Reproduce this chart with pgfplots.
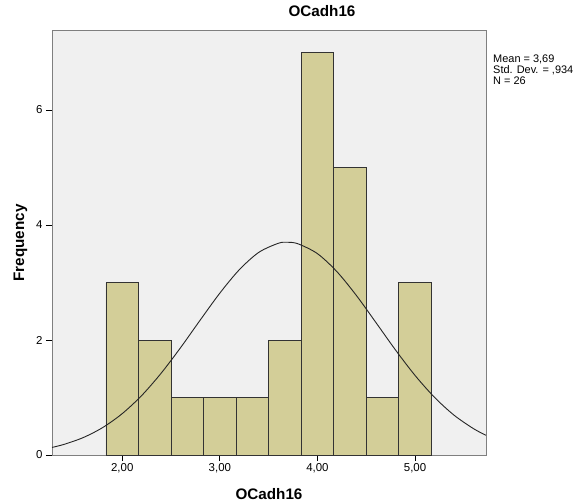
\documentclass[border=0pt]{standalone}
\usepackage{pgfplots}
\pgfplotsset{compat=1.18}
\usepackage{fontspec}
\setmainfont{Liberation Sans}
\definecolor{plotbg}{HTML}{F0F0F0}
\definecolor{barfill}{HTML}{D3CE98}
\definecolor{frame}{HTML}{7F7F7F}
\begin{document}
\begin{tikzpicture}
\useasboundingbox (-52bp,-48bp) rectangle (535bp,455bp);
\begin{axis}[
    scale only axis,
    width=434bp, height=424.3bp,
    xmin=1.28, xmax=5.727,
    ymin=0, ymax=7.38,
    axis background/.style={fill=plotbg},
    axis line style={draw=frame, line width=0.9bp},
    xtick={2,3,4,5},
    xticklabels={{2,00},{3,00},{4,00},{5,00}},
    ytick={0,2,4,6},
    tick align=outside,
    tick pos=left,
    major tick length=6bp,
    tick style={black, line width=0.8bp},
    /pgf/number format/assume math mode=true,
    ticklabel style={font=\fontsize{11.5}{12}\selectfont},
    xticklabel style={yshift=1bp},
    xlabel={OCadh16},
    ylabel={Frequency},
    xlabel style={font=\fontsize{15.3}{16}\selectfont\bfseries, at={(rel axis cs:0.5,0)}, anchor=north, inner sep=0pt, yshift=-33bp},
    ylabel style={font=\fontsize{15.3}{16}\selectfont\bfseries, at={(rel axis cs:0,0.5)}, anchor=center, inner sep=0pt, yshift=31.5bp},
    title={OCadh16},
    title style={font=\fontsize{15.3}{16}\selectfont\bfseries, at={(rel axis cs:0.5,1)}, anchor=center, inner sep=0pt, xshift=53bp, yshift=13.3bp},
    clip=true,
]
\addplot[ybar interval, fill=barfill, draw=black!80, line width=0.8bp] coordinates {
    (1.8333,3) (2.1667,2) (2.5,1) (2.8333,1) (3.1667,1) (3.5,2)
    (3.8333,7) (4.1667,5) (4.5,1) (4.8333,3) (5.1667,0)
};
\addplot[smooth, black!85, line width=0.9bp] coordinates {
    (1.28,0.132) (1.4,0.183) (1.6,0.303) (1.8,0.478) (2.0,0.720)
    (2.2,1.036) (2.4,1.426) (2.6,1.873) (2.8,2.350) (3.0,2.816)
    (3.2,3.224) (3.4,3.526) (3.6,3.683) (3.69,3.70) (3.8,3.674)
    (4.0,3.502) (4.2,3.188) (4.4,2.772) (4.6,2.302) (4.8,1.826)
    (5.0,1.384) (5.2,1.002) (5.4,0.692) (5.6,0.457) (5.727,0.343)
};
\end{axis}
\node[anchor=north west, inner sep=0pt, align=left, font=\fontsize{11}{11}\selectfont]
    at (441bp,400.5bp) {Mean = 3,69\\Std. Dev. = ,934\\N = 26};
\end{tikzpicture}
\end{document}
